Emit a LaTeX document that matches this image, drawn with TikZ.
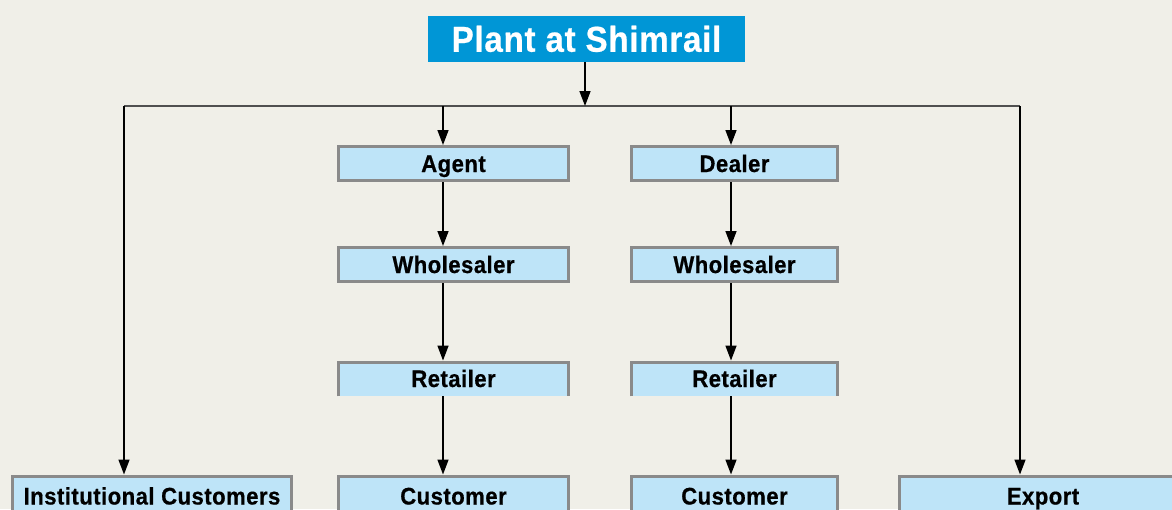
\documentclass[tikz,border=0pt]{standalone}
\usepackage{fontspec}
\setmainfont{Liberation Sans}
\newfontfamily\lblfont{Liberation Sans}[FakeStretch=0.92, FakeBold=0.6, LetterSpace=2]
\usetikzlibrary{arrows.meta}
\definecolor{bg}{RGB}{240,239,232}
\definecolor{topblue}{RGB}{0,150,214}
\definecolor{boxblue}{RGB}{190,228,248}
\definecolor{boxedge}{RGB}{138,138,138}
\definecolor{bus}{RGB}{80,80,80}
\tikzset{
  box/.style={fill=boxblue, draw=boxedge, line width=3pt, inner sep=0pt,
    font=\lblfont\fontsize{24}{24}\selectfont\bfseries, text height=17pt, text depth=0pt,
    minimum height=34pt},
  openbox/.style={fill=boxblue, inner sep=0pt,
    font=\lblfont\fontsize{24}{24}\selectfont\bfseries, text height=17pt, text depth=0pt,
    minimum height=35.5pt},
  topbox/.style={fill=topblue, text=white, inner sep=0pt,
    font=\lblfont\fontsize{36}{36}\selectfont\bfseries, text height=25.5pt, text depth=0pt,
    minimum width=317pt, minimum height=46pt},
  arr/.style={line width=1.5pt, -{Triangle[length=15pt,width=11pt]}},
  busline/.style={line width=1.5pt, draw=bus}
}
\begin{document}
\begin{tikzpicture}[x=1pt,y=-1pt]
\clip (0,0) rectangle (1172,509);
\fill[bg] (0,0) rectangle (1172,509);

\node[topbox] (plant) at (586.5,39) {Plant at Shimrail};

\node[box, minimum width=230pt] (agent) at (453.5,163.5) {Agent};
\node[box, minimum width=206pt] (dealer) at (734.5,163.5) {Dealer};
\node[box, minimum width=230pt] (wh1) at (453.5,264.5) {Wholesaler};
\node[box, minimum width=206pt] (wh2) at (734.5,264.5) {Wholesaler};
\node[openbox, minimum width=230pt] (rt1) at (453.5,378.5) {Retailer};
\node[openbox, minimum width=206pt] (rt2) at (734.5,378.5) {Retailer};
\draw[boxedge, line width=3pt] (rt1.south west) -- ([yshift=-1.5pt]rt1.north west) -- ([yshift=-1.5pt]rt1.north east) -- (rt1.south east);
\draw[boxedge, line width=3pt] (rt2.south west) -- ([yshift=-1.5pt]rt2.north west) -- ([yshift=-1.5pt]rt2.north east) -- (rt2.south east);
\node[box, minimum width=230pt, minimum height=40pt] (cu1) at (453.5,496) {Customer};
\node[box, minimum width=206pt, minimum height=40pt] (cu2) at (734.5,496) {Customer};
\node[box, minimum width=279pt, minimum height=40pt] (inst) at (152,496) {Institutional Customers};
\node[box, minimum width=287pt, minimum height=40pt] (exp) at (1043,496) {Export};

\coordinate (bL) at (124,106);
\coordinate (bA) at (443,106);
\coordinate (bM) at (585,106);
\coordinate (bD) at (731,106);
\coordinate (bR) at (1020,106);

\draw[busline] (bL) -- (bR);
\draw[arr] (plant.south -| bM) -- (bM);
\draw[arr] (bL) -- (bL |- inst.north);
\draw[arr] (bR) -- (bR |- exp.north);
\draw[arr] (bA) -- (bA |- agent.north);
\draw[arr] (bD) -- (bD |- dealer.north);
\draw[arr] (bA |- agent.south) -- (bA |- wh1.north);
\draw[arr] (bD |- dealer.south) -- (bD |- wh2.north);
\draw[arr] (bA |- wh1.south) -- (bA |- rt1.north);
\draw[arr] (bD |- wh2.south) -- (bD |- rt2.north);
\draw[arr] (bA |- rt1.south) -- (bA |- cu1.north);
\draw[arr] (bD |- rt2.south) -- (bD |- cu2.north);
\end{tikzpicture}
\end{document}
